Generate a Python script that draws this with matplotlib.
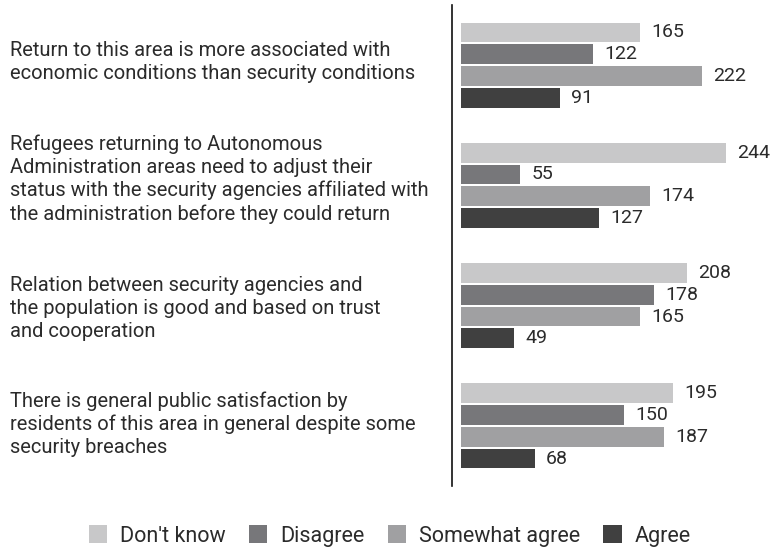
import matplotlib.pyplot as plt
import matplotlib.transforms as mtransforms
import numpy as np

plt.rcParams["font.family"] = ["Roboto", "DejaVu Sans"]

statements = [
    "Return to this area is more associated with\neconomic conditions than security conditions",
    "Refugees returning to Autonomous\nAdministration areas need to adjust their\n"
    "status with the security agencies affiliated with\nthe administration before they could return",
    "Relation between security agencies and\nthe population is good and based on trust\nand cooperation",
    "There is general public satisfaction by\nresidents of this area in general despite some\nsecurity breaches",
]
answers = ["Don't know", "Disagree", "Somewhat agree", "Agree"]
dont_know = [165, 244, 208, 195]
disagree = [122, 55, 178, 150]
somewhat_agree = [222, 174, 165, 187]
agree = [91, 127, 49, 68]

colors = ["#c8c8c9", "#77777a", "#a0a0a2", "#404040"]
text_color = "#2b2b2b"

fig = plt.figure(figsize=(7.75, 5.51), dpi=100)
ax = fig.add_axes([452.3 / 775, 65 / 551, 1 - 452.3 / 775, (546 - 65) / 551])

y = np.arange(len(statements))
pitch = 0.181
series = [dont_know, disagree, somewhat_agree, agree]
for j, (name, vals, col) in enumerate(zip(answers, series, colors)):
    pos = y - 1.5 * pitch + j * pitch
    bars = ax.barh(pos, vals, height=pitch * 0.91, color=col, label=name)
    for b, v in zip(bars, vals):
        ax.annotate(
            str(v),
            (b.get_width(), b.get_y() + b.get_height() / 2),
            xytext=(8.2, 0),
            textcoords="offset points",
            va="center",
            ha="left",
            fontsize=14,
            color=text_color,
        )

# statement labels sit in figure x, data y (small per-label nudge to match layout)
blend = mtransforms.blended_transform_factory(fig.transFigure, ax.transData)
label_shift = [-0.025, -0.05, 0.025, -0.017]
for i, s in enumerate(statements):
    fig.text(
        10 / 775,
        i + label_shift[i],
        s,
        transform=blend,
        fontsize=14.5,
        color=text_color,
        va="center",
        ha="left",
        linespacing=1.25,
    )

ax.set_xlim(-7.7, 289)
ax.set_ylim(3.5, -0.5)
for side in ["top", "right", "bottom"]:
    ax.spines[side].set_visible(False)
ax.spines["left"].set_linewidth(1.2)
ax.spines["left"].set_color("#111111")
ax.set_xticks([])
ax.set_yticks([])

fig.legend(
    loc="center",
    bbox_to_anchor=(0.503, 1 - 536 / 551),
    ncol=4,
    frameon=False,
    fontsize=15.5,
    handlelength=0.85,
    handleheight=0.85,
    handletextpad=0.6,
    columnspacing=1.08,
    labelcolor=text_color,
)

fig.savefig("out.png", dpi=100)
